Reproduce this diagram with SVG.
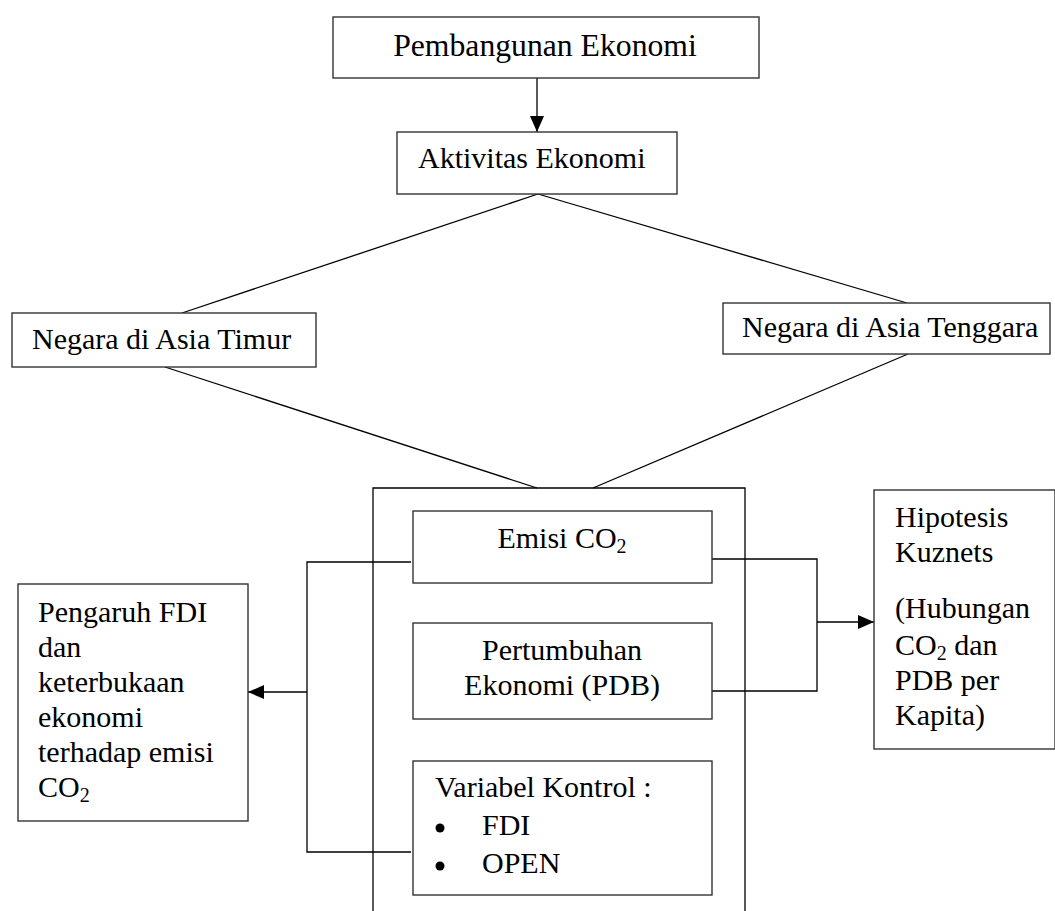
<svg xmlns="http://www.w3.org/2000/svg" width="1055" height="911" viewBox="0 0 1055 911" font-family="'Liberation Serif', 'DejaVu Serif', serif">
<style>
.box{fill:#fff;stroke:#333;stroke-width:1.4}
.ln{fill:none;stroke:#000;stroke-width:1.3}
.t{font-family:'Liberation Serif', 'DejaVu Serif', serif;font-size:30px;fill:#000}
.c{text-anchor:middle}
.sub{font-size:20px}
</style>
<defs>
<marker id="ah" viewBox="0 0 16 14" refX="16" refY="7" markerWidth="16" markerHeight="14" markerUnits="userSpaceOnUse" orient="auto">
<path d="M0,0 L16,7 L0,14 Z" fill="#000"/>
</marker>
</defs>
<rect width="1055" height="911" fill="#fff"/>
<g id="connectors">
<line class="ln" x1="537" y1="78" x2="537" y2="132" marker-end="url(#ah)"/>
<line class="ln" x1="538" y1="194" x2="182" y2="313"/>
<line class="ln" x1="538" y1="194" x2="907" y2="303"/>
<line class="ln" x1="165" y1="367" x2="537" y2="488"/>
<line class="ln" x1="908" y1="354" x2="593" y2="488"/>
<polyline class="ln" points="411,562 307,562 307,852 411,852"/>
<line class="ln" x1="307" y1="692" x2="248" y2="692" marker-end="url(#ah)"/>
<polyline class="ln" points="712,559 817,559 817,691 712,691"/>
<line class="ln" x1="817" y1="622" x2="874" y2="622" marker-end="url(#ah)"/>
</g>
<g id="pembangunan">
<rect class="box" x="333" y="17" width="426" height="61"/>
<text class="t c" x="545" y="56" style="font-size:31.7px">Pembangunan Ekonomi</text>
</g>
<g id="aktivitas">
<rect class="box" x="397" y="132" width="280" height="62"/>
<text class="t" x="418" y="168">Aktivitas Ekonomi</text>
</g>
<g id="asia-timur">
<rect class="box" x="12" y="313" width="304" height="54"/>
<text class="t" x="32" y="349">Negara di Asia Timur</text>
</g>
<g id="asia-tenggara">
<rect class="box" x="723" y="303" width="327" height="51"/>
<text class="t" x="742" y="337">Negara di Asia Tenggara</text>
</g>
<g id="variabel-group">
<path class="ln" d="M373,911 L373,488 L745,488 L745,911"/>
</g>
<g id="emisi">
<rect class="box" x="413" y="511" width="299" height="72"/>
<text class="t c" x="562" y="548">Emisi CO<tspan class="sub" dy="5">2</tspan></text>
</g>
<g id="pertumbuhan">
<rect class="box" x="413" y="623" width="299" height="96"/>
<text class="t c" x="562" y="660">Pertumbuhan</text>
<text class="t c" x="562" y="695">Ekonomi (PDB)</text>
</g>
<g id="variabel-kontrol">
<rect class="box" x="413" y="761" width="299" height="134"/>
<text class="t" x="435" y="797">Variabel Kontrol :</text>
<circle cx="440" cy="828" r="4.5" fill="#000"/>
<text class="t" x="482" y="835">FDI</text>
<circle cx="440" cy="866" r="4.5" fill="#000"/>
<text class="t" x="482" y="873">OPEN</text>
</g>
<g id="pengaruh">
<rect class="box" x="18" y="584" width="230" height="237"/>
<text class="t" x="38" y="622">Pengaruh FDI</text>
<text class="t" x="38" y="657">dan</text>
<text class="t" x="38" y="692">keterbukaan</text>
<text class="t" x="38" y="727">ekonomi</text>
<text class="t" x="38" y="762">terhadap emisi</text>
<text class="t" x="38" y="797">CO<tspan class="sub" dy="5">2</tspan></text>
</g>
<g id="hipotesis">
<rect class="box" x="874" y="490" width="181" height="259"/>
<text class="t" x="895" y="527">Hipotesis</text>
<text class="t" x="895" y="562">Kuznets</text>
<text class="t" x="895" y="618">(Hubungan</text>
<text class="t" x="895" y="655">CO<tspan class="sub" dy="5">2</tspan><tspan dy="-5"> dan</tspan></text>
<text class="t" x="895" y="690">PDB per</text>
<text class="t" x="895" y="725">Kapita)</text>
</g>
</svg>
